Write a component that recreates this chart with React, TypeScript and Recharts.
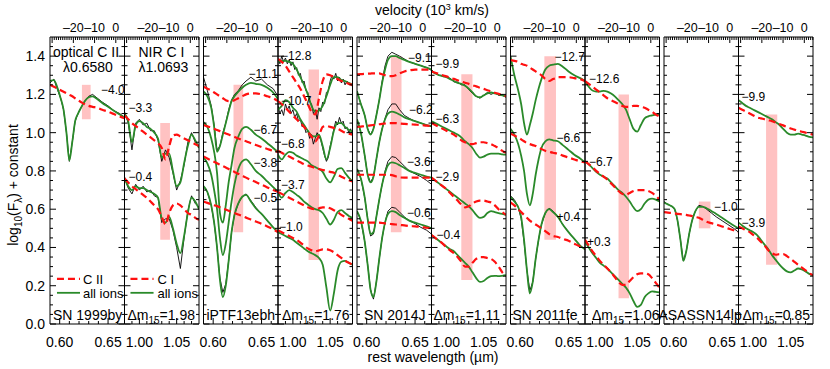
import React from "react";
import { LineChart, Line, XAxis, YAxis, ReferenceArea, ReferenceDot, ReferenceLine } from "recharts";

// ---------- grids & axes ----------
const OPT_GRID = [0.590, 0.594, 0.598, 0.601, 0.604, 0.607, 0.610, 0.613, 0.616, 0.619, 0.622, 0.626, 0.630, 0.634, 0.639, 0.644, 0.650, 0.656, 0.662, 0.667];
const NIR_GRID = [0.98, 0.985, 0.99, 0.995, 1.0, 1.005, 1.01, 1.015, 1.02, 1.025, 1.03, 1.035, 1.04, 1.045, 1.05, 1.055, 1.06, 1.065, 1.07, 1.075, 1.08];
const NIR_FINE = [0.98, 0.9825, 0.985, 0.9875, 0.99, 0.9925, 0.995, 0.9975, 1.0, 1.0025, 1.005, 1.0075, 1.01, 1.0125, 1.015, 1.0175, 1.02, 1.0225, 1.025, 1.0275, 1.03, 1.0325, 1.035, 1.0375, 1.04, 1.0425, 1.045, 1.0475, 1.05, 1.0525, 1.055, 1.0575, 1.06, 1.0625, 1.065, 1.0675, 1.07, 1.0725, 1.075, 1.0775, 1.08];

const OPT_DOMAIN: [number, number] = [0.59, 0.667];
const NIR_DOMAIN: [number, number] = [0.98, 1.08];
const VEL_DOMAIN: [number, number] = [-31.0, 4.1];
const Y_DOMAIN: [number, number] = [0, 1.5];

const OPT_TICKS = [0.6, 0.61, 0.62, 0.63, 0.64, 0.65, 0.66];
const OPT_MAJOR = [0.6, 0.65];
const NIR_TICKS = [0.99, 1.0, 1.01, 1.02, 1.03, 1.04, 1.05, 1.06, 1.07];
const NIR_MAJOR = [1.0, 1.05];
const VEL_TICKS = [-30, -29, -28, -27, -26, -25, -24, -23, -22, -21, -20, -19, -18, -17, -16, -15, -14, -13, -12, -11, -10, -9, -8, -7, -6, -5, -4, -3, -2, -1, 0, 1, 2, 3, 4];
const VEL_MAJOR = [-30, -20, -10, 0];
const VEL_LABELS = [-20, -10, 0];
const Y_TICKS = [0.0, 0.05, 0.1, 0.15, 0.2, 0.25, 0.3, 0.35, 0.4, 0.45, 0.5, 0.55, 0.6, 0.65, 0.7, 0.75, 0.8, 0.85, 0.9, 0.95, 1.0, 1.05, 1.1, 1.15, 1.2, 1.25, 1.3, 1.35, 1.4, 1.45];
const Y_MAJOR = [0.0, 0.2, 0.4, 0.6, 0.8, 1.0, 1.2, 1.4];

// ---------- SN 1999by ----------
const P1_G = [1.27, 1.275, 1.23, 1.18, 1.12, 1.0, 0.855, 0.95, 1.06, 1.10, 1.13, 1.165, 1.185, 1.19, 1.175, 1.155, 1.135, 1.115, 1.095, 1.08];
const P1_K = [1.26, 1.28, 1.22, 1.18, 1.12, 1.0, 0.85, 0.95, 1.06, 1.10, 1.13, 1.165, 1.19, 1.20, 1.18, 1.16, 1.14, 1.115, 1.10, 1.08];
const P1_R = [1.25, 1.24, 1.23, 1.222, 1.214, 1.206, 1.198, 1.19, 1.18, 1.17, 1.16, 1.148, 1.14, 1.135, 1.13, 1.12, 1.11, 1.097, 1.085, 1.075];

const P2A_G = [1.10, 1.06, 0.95, 1.04, 1.06, 1.05, 1.03, 1.02, 1.0, 0.97, 0.87, 0.89, 0.89, 0.80, 0.72, 0.74, 0.84, 0.93, 0.99, 0.96, 0.92];
const P2A_K = [1.11, 1.05, 0.91, 1.05, 1.07, 1.04, 1.05, 1.01, 1.01, 0.96, 0.85, 0.91, 0.87, 0.79, 0.70, 0.75, 0.83, 0.95, 1.0, 0.95, 0.93];
const P2A_R = [1.09, 1.07, 1.05, 1.035, 1.02, 1.005, 0.99, 0.975, 0.96, 0.945, 0.92, 0.86, 0.93, 0.985, 0.99, 0.98, 0.97, 0.96, 0.95, 0.94, 0.93];
const P2B_G = [0.76, 0.72, 0.70, 0.72, 0.71, 0.71, 0.70, 0.69, 0.68, 0.66, 0.55, 0.53, 0.56, 0.50, 0.42, 0.37, 0.46, 0.58, 0.66, 0.64, 0.60];
const P2B_K = [0.77, 0.71, 0.68, 0.73, 0.70, 0.72, 0.69, 0.70, 0.67, 0.66, 0.53, 0.55, 0.55, 0.49, 0.40, 0.29, 0.45, 0.59, 0.67, 0.63, 0.61];
const P2B_R = [0.76, 0.74, 0.72, 0.705, 0.69, 0.675, 0.66, 0.64, 0.62, 0.60, 0.56, 0.52, 0.58, 0.62, 0.63, 0.62, 0.60, 0.58, 0.57, 0.555, 0.545];

// ---------- iPTF13ebh ----------
const P3A_G = [1.215, 1.19, 1.13, 1.03, 0.90, 0.93, 0.99, 1.05, 1.11, 1.165, 1.19, 1.215, 1.235, 1.25, 1.26, 1.255, 1.25, 1.235, 1.21, 1.175];
const P3A_K = [1.29, 1.22, 1.14, 1.04, 0.91, 0.93, 1.0, 1.05, 1.12, 1.17, 1.20, 1.22, 1.25, 1.27, 1.29, 1.27, 1.28, 1.25, 1.23, 1.19];
const P3A_R = [1.24, 1.23, 1.22, 1.21, 1.20, 1.19, 1.18, 1.17, 1.165, 1.165, 1.17, 1.18, 1.19, 1.20, 1.205, 1.205, 1.2, 1.19, 1.18, 1.165];
const P3B_G = [1.055, 1.03, 0.97, 0.90, 0.79, 0.58, 0.53, 0.62, 0.74, 0.83, 0.92, 0.98, 1.02, 1.03, 1.015, 0.99, 0.97, 0.945, 0.92, 0.90];
const P3B_R = [1.04, 1.033, 1.026, 1.02, 1.014, 1.008, 1.002, 0.996, 0.99, 0.984, 0.978, 0.97, 0.962, 0.955, 0.945, 0.936, 0.925, 0.915, 0.905, 0.90];
const P3C_G = [0.87, 0.84, 0.78, 0.70, 0.60, 0.45, 0.36, 0.42, 0.53, 0.64, 0.73, 0.81, 0.85, 0.86, 0.835, 0.80, 0.775, 0.745, 0.715, 0.69];
const P3C_R = [0.875, 0.865, 0.855, 0.848, 0.84, 0.832, 0.825, 0.818, 0.81, 0.802, 0.795, 0.785, 0.775, 0.765, 0.753, 0.742, 0.728, 0.714, 0.70, 0.69];
const P3D_G = [0.72, 0.69, 0.62, 0.53, 0.40, 0.23, 0.14, 0.20, 0.33, 0.48, 0.57, 0.63, 0.665, 0.675, 0.64, 0.605, 0.575, 0.54, 0.505, 0.48];
const P3D_K = [0.72, 0.69, 0.62, 0.53, 0.40, 0.24, 0.165, 0.21, 0.33, 0.48, 0.57, 0.63, 0.665, 0.68, 0.645, 0.61, 0.575, 0.54, 0.505, 0.48];
const P3D_R = [0.64, 0.633, 0.626, 0.621, 0.616, 0.61, 0.604, 0.598, 0.592, 0.586, 0.58, 0.572, 0.564, 0.556, 0.546, 0.536, 0.524, 0.51, 0.495, 0.48];

const P4A_G = [1.37, 1.375, 1.375, 1.37, 1.36, 1.33, 1.29, 1.25, 1.20, 1.14, 1.11, 1.115, 1.14, 1.19, 1.25, 1.29, 1.29, 1.275, 1.27, 1.26, 1.25];
const P4A_K = [1.39, 1.36, 1.40, 1.37, 1.39, 1.36, 1.38, 1.35, 1.37, 1.33, 1.34, 1.30, 1.31, 1.26, 1.27, 1.22, 1.21, 1.16, 1.15, 1.10, 1.12, 1.07, 1.13, 1.11, 1.16, 1.15, 1.21, 1.22, 1.27, 1.30, 1.28, 1.31, 1.27, 1.29, 1.26, 1.28, 1.25, 1.27, 1.25, 1.26, 1.24];
const P4A_R = [1.385, 1.37, 1.35, 1.32, 1.29, 1.26, 1.23, 1.19, 1.15, 1.11, 1.095, 1.18, 1.27, 1.305, 1.30, 1.29, 1.28, 1.27, 1.265, 1.255, 1.25];
const P4B_G = [1.12, 1.14, 1.17, 1.16, 1.13, 1.11, 1.07, 1.04, 1.01, 0.985, 0.98, 0.99, 0.93, 0.86, 0.92, 1.01, 1.05, 1.05, 1.03, 1.015, 1.005];
const P4B_K = [1.14, 1.10, 1.12, 1.09, 1.15, 1.12, 1.14, 1.10, 1.12, 1.08, 1.10, 1.06, 1.07, 1.03, 1.04, 1.0, 1.01, 0.97, 0.99, 0.94, 0.97, 1.0, 0.98, 0.96, 0.92, 0.88, 0.85, 0.87, 0.93, 0.97, 1.02, 1.06, 1.04, 1.08, 1.05, 1.06, 1.02, 1.03, 1.0, 1.02, 0.99];
const P4B_R = [1.165, 1.15, 1.13, 1.11, 1.09, 1.07, 1.05, 1.03, 1.005, 0.98, 0.955, 0.985, 1.03, 1.035, 1.03, 1.025, 1.02, 1.01, 1.0, 0.995, 0.99];
const P4C_G = [0.885, 0.86, 0.885, 0.90, 0.895, 0.88, 0.87, 0.86, 0.85, 0.83, 0.82, 0.81, 0.795, 0.76, 0.74, 0.77, 0.81, 0.815, 0.79, 0.765, 0.745];
const P4C_R = [0.905, 0.895, 0.885, 0.875, 0.865, 0.855, 0.845, 0.835, 0.828, 0.822, 0.815, 0.81, 0.805, 0.80, 0.795, 0.79, 0.78, 0.77, 0.76, 0.752, 0.745];
const P4D_G = [0.69, 0.66, 0.685, 0.70, 0.69, 0.675, 0.66, 0.64, 0.625, 0.61, 0.60, 0.595, 0.58, 0.55, 0.52, 0.545, 0.585, 0.595, 0.58, 0.565, 0.555];
const P4D_R = [0.69, 0.68, 0.67, 0.66, 0.65, 0.64, 0.63, 0.62, 0.61, 0.603, 0.60, 0.605, 0.61, 0.61, 0.605, 0.595, 0.585, 0.57, 0.56, 0.55, 0.54];
const P4E_G = [0.48, 0.47, 0.46, 0.45, 0.44, 0.425, 0.41, 0.395, 0.38, 0.37, 0.36, 0.345, 0.31, 0.19, 0.07, 0.16, 0.28, 0.325, 0.33, 0.32, 0.31];
const P4E_R = [0.49, 0.48, 0.47, 0.46, 0.45, 0.44, 0.425, 0.41, 0.395, 0.385, 0.38, 0.385, 0.39, 0.39, 0.385, 0.375, 0.36, 0.345, 0.33, 0.32, 0.31];

// ---------- SN 2014J ----------
const P5A_G = [1.217, 1.15, 1.09, 1.02, 0.99, 1.02, 1.09, 1.17, 1.26, 1.33, 1.38, 1.40, 1.40, 1.39, 1.38, 1.37, 1.36, 1.35, 1.34, 1.33];
const P5A_K = [1.217, 1.15, 1.09, 1.02, 0.99, 1.02, 1.09, 1.17, 1.27, 1.35, 1.40, 1.42, 1.41, 1.40, 1.385, 1.37, 1.36, 1.35, 1.34, 1.325];
const P5A_R = [1.305, 1.306, 1.307, 1.308, 1.309, 1.31, 1.31, 1.31, 1.305, 1.30, 1.295, 1.295, 1.30, 1.31, 1.32, 1.325, 1.33, 1.33, 1.33, 1.33];
const P5B_G = [1.07, 1.0, 0.88, 0.78, 0.74, 0.77, 0.86, 0.95, 1.02, 1.07, 1.10, 1.11, 1.105, 1.095, 1.08, 1.07, 1.06, 1.05, 1.04, 1.035];
const P5B_K = [1.07, 1.0, 0.88, 0.78, 0.74, 0.77, 0.86, 0.95, 1.02, 1.075, 1.12, 1.15, 1.15, 1.12, 1.09, 1.075, 1.06, 1.05, 1.04, 1.03];
const P5B_R = [1.03, 1.032, 1.034, 1.036, 1.038, 1.04, 1.042, 1.044, 1.046, 1.048, 1.05, 1.05, 1.05, 1.048, 1.046, 1.044, 1.042, 1.04, 1.037, 1.035];
const P5C_G = [0.81, 0.76, 0.66, 0.55, 0.47, 0.48, 0.56, 0.65, 0.73, 0.79, 0.83, 0.845, 0.84, 0.83, 0.815, 0.80, 0.79, 0.78, 0.77, 0.765];
const P5C_K = [0.81, 0.76, 0.66, 0.55, 0.46, 0.47, 0.56, 0.65, 0.73, 0.80, 0.85, 0.875, 0.87, 0.85, 0.825, 0.80, 0.785, 0.77, 0.75, 0.73];
const P5C_R = [0.78, 0.78, 0.78, 0.78, 0.78, 0.78, 0.78, 0.78, 0.78, 0.78, 0.78, 0.778, 0.772, 0.766, 0.765, 0.765, 0.765, 0.765, 0.765, 0.765];
const P5D_G = [0.59, 0.54, 0.43, 0.31, 0.18, 0.14, 0.22, 0.34, 0.45, 0.53, 0.575, 0.59, 0.585, 0.57, 0.555, 0.54, 0.53, 0.52, 0.51, 0.50];
const P5D_K = [0.59, 0.54, 0.43, 0.31, 0.18, 0.13, 0.22, 0.34, 0.45, 0.53, 0.59, 0.61, 0.605, 0.585, 0.56, 0.54, 0.525, 0.505, 0.49, 0.47];
const P5D_R = [0.53, 0.53, 0.53, 0.53, 0.53, 0.53, 0.53, 0.53, 0.528, 0.526, 0.524, 0.522, 0.52, 0.518, 0.515, 0.512, 0.51, 0.507, 0.503, 0.50];

const P6A_G = [1.32, 1.31, 1.30, 1.295, 1.29, 1.28, 1.27, 1.26, 1.255, 1.245, 1.23, 1.21, 1.19, 1.185, 1.195, 1.205, 1.21, 1.205, 1.20, 1.195, 1.19];
const P6A_K = [1.33, 1.31, 1.30, 1.30, 1.29, 1.285, 1.265, 1.265, 1.25, 1.25, 1.225, 1.205, 1.19, 1.18, 1.195, 1.21, 1.20, 1.21, 1.195, 1.195, 1.185];
const P6A_R = [1.32, 1.313, 1.307, 1.30, 1.294, 1.287, 1.281, 1.274, 1.268, 1.261, 1.255, 1.248, 1.242, 1.235, 1.229, 1.222, 1.216, 1.209, 1.203, 1.196, 1.19];
const P6B_G = [1.06, 1.05, 1.04, 1.03, 1.02, 1.01, 1.0, 0.99, 0.975, 0.955, 0.94, 0.92, 0.89, 0.87, 0.875, 0.885, 0.89, 0.89, 0.89, 0.887, 0.885];
const P6B_R = [1.05, 1.04, 1.03, 1.02, 1.01, 1.0, 0.99, 0.975, 0.96, 0.95, 0.94, 0.94, 0.945, 0.95, 0.95, 0.945, 0.94, 0.93, 0.92, 0.905, 0.895];
const P6C_G = [0.765, 0.75, 0.735, 0.72, 0.705, 0.69, 0.675, 0.66, 0.645, 0.63, 0.615, 0.595, 0.57, 0.555, 0.56, 0.58, 0.59, 0.585, 0.58, 0.575, 0.57];
const P6C_R = [0.765, 0.75, 0.735, 0.72, 0.705, 0.685, 0.665, 0.645, 0.625, 0.61, 0.615, 0.63, 0.64, 0.645, 0.645, 0.64, 0.635, 0.62, 0.60, 0.585, 0.57];
const P6D_G = [0.465, 0.45, 0.435, 0.42, 0.405, 0.39, 0.38, 0.36, 0.34, 0.32, 0.30, 0.27, 0.24, 0.22, 0.225, 0.24, 0.25, 0.252, 0.25, 0.252, 0.255];
const P6D_R = [0.465, 0.45, 0.435, 0.42, 0.40, 0.385, 0.37, 0.35, 0.325, 0.30, 0.30, 0.32, 0.34, 0.35, 0.35, 0.345, 0.34, 0.325, 0.30, 0.27, 0.25];

// ---------- SN 2011fe ----------
const P7A_G = [1.40, 1.30, 1.22, 1.15, 1.05, 0.99, 1.04, 1.10, 1.17, 1.23, 1.28, 1.33, 1.35, 1.355, 1.36, 1.345, 1.32, 1.30, 1.285, 1.27];
const P7A_R = [1.38, 1.375, 1.37, 1.36, 1.355, 1.35, 1.34, 1.33, 1.32, 1.31, 1.30, 1.28, 1.27, 1.28, 1.29, 1.29, 1.29, 1.285, 1.28, 1.27];
const P7B_G = [1.02, 0.99, 0.94, 0.88, 0.80, 0.68, 0.62, 0.68, 0.78, 0.86, 0.92, 0.955, 0.965, 0.96, 0.955, 0.935, 0.91, 0.885, 0.865, 0.845];
const P7B_R = [0.995, 0.985, 0.975, 0.965, 0.955, 0.945, 0.94, 0.935, 0.93, 0.92, 0.915, 0.905, 0.90, 0.895, 0.89, 0.88, 0.87, 0.86, 0.85, 0.845];
const P7C_G = [0.665, 0.64, 0.61, 0.56, 0.44, 0.28, 0.16, 0.22, 0.34, 0.44, 0.52, 0.58, 0.60, 0.585, 0.56, 0.52, 0.48, 0.445, 0.41, 0.39];
const P7C_K = [0.67, 0.65, 0.61, 0.55, 0.43, 0.28, 0.175, 0.22, 0.34, 0.44, 0.52, 0.58, 0.605, 0.59, 0.56, 0.52, 0.48, 0.445, 0.41, 0.39];
const P7C_R = [0.635, 0.62, 0.60, 0.585, 0.57, 0.555, 0.54, 0.53, 0.52, 0.51, 0.50, 0.485, 0.47, 0.46, 0.455, 0.445, 0.435, 0.42, 0.405, 0.395];

const P8A_G = [1.27, 1.24, 1.22, 1.215, 1.215, 1.218, 1.215, 1.205, 1.19, 1.17, 1.15, 1.12, 1.07, 1.02, 1.005, 1.04, 1.075, 1.085, 1.09, 1.095, 1.095];
const P8A_R = [1.27, 1.255, 1.24, 1.225, 1.21, 1.195, 1.18, 1.17, 1.16, 1.15, 1.14, 1.135, 1.135, 1.14, 1.14, 1.135, 1.13, 1.12, 1.11, 1.095, 1.085];
const P8B_G = [0.85, 0.835, 0.815, 0.795, 0.78, 0.77, 0.76, 0.74, 0.72, 0.70, 0.685, 0.665, 0.64, 0.61, 0.59, 0.60, 0.63, 0.65, 0.655, 0.65, 0.64];
const P8B_R = [0.85, 0.835, 0.82, 0.80, 0.785, 0.77, 0.755, 0.735, 0.715, 0.695, 0.68, 0.675, 0.685, 0.695, 0.70, 0.70, 0.70, 0.695, 0.685, 0.67, 0.65];
const P8C_G = [0.43, 0.40, 0.37, 0.345, 0.32, 0.305, 0.29, 0.27, 0.25, 0.23, 0.21, 0.19, 0.16, 0.12, 0.09, 0.10, 0.14, 0.16, 0.17, 0.168, 0.165];
const P8C_R = [0.44, 0.41, 0.38, 0.355, 0.33, 0.31, 0.29, 0.27, 0.245, 0.22, 0.205, 0.205, 0.225, 0.245, 0.26, 0.265, 0.265, 0.26, 0.24, 0.215, 0.19];

// ---------- ASASSN14lp ----------
const P9_G = [0.635, 0.625, 0.615, 0.60, 0.54, 0.44, 0.33, 0.38, 0.47, 0.54, 0.585, 0.612, 0.612, 0.605, 0.59, 0.575, 0.555, 0.535, 0.515, 0.50];
const P9_K = [0.64, 0.625, 0.615, 0.60, 0.54, 0.44, 0.33, 0.38, 0.47, 0.54, 0.585, 0.62, 0.615, 0.60, 0.58, 0.56, 0.54, 0.52, 0.50, 0.48];
const P9_R = [0.585, 0.582, 0.58, 0.578, 0.576, 0.574, 0.572, 0.57, 0.567, 0.564, 0.56, 0.555, 0.545, 0.535, 0.527, 0.52, 0.51, 0.50, 0.49, 0.48];

const P10A_G = [1.17, 1.155, 1.14, 1.13, 1.12, 1.11, 1.10, 1.09, 1.08, 1.07, 1.055, 1.04, 1.02, 1.0, 0.99, 0.99, 0.995, 0.99, 0.985, 0.978, 0.975];
const P10A_R = [1.13, 1.12, 1.11, 1.10, 1.09, 1.08, 1.075, 1.07, 1.065, 1.06, 1.052, 1.045, 1.038, 1.03, 1.022, 1.016, 1.01, 1.005, 1.0, 0.995, 0.99];
const P10B_G = [0.53, 0.515, 0.50, 0.49, 0.48, 0.465, 0.44, 0.415, 0.39, 0.36, 0.335, 0.31, 0.29, 0.275, 0.27, 0.28, 0.29, 0.285, 0.275, 0.262, 0.255];
const P10B_R = [0.51, 0.50, 0.49, 0.48, 0.465, 0.45, 0.43, 0.41, 0.385, 0.37, 0.362, 0.365, 0.365, 0.355, 0.34, 0.325, 0.31, 0.295, 0.28, 0.265, 0.255];

// ---------- carbon-line bands [x1, x2, y1, y2] ----------
const BANDS = [
  [0.623, 0.632, 1.07, 1.25],
  [1.028, 1.041, 0.44, 1.05],
  [0.621, 0.631, 0.48, 1.25],
  [1.021, 1.035, 0.335, 1.33],
  [0.625, 0.636, 0.48, 1.40],
  [1.020, 1.035, 0.23, 1.305],
  [0.625, 0.637, 0.44, 1.40],
  [1.025, 1.039, 0.135, 1.20],
  [0.626, 0.638, 0.50, 0.64],
  [1.017, 1.032, 0.31, 1.095],
];

// ---------- phase labels ----------
const PHASES: { t: string; x: number; y: number }[][] = [
  [{ t: "−4.0", x: 0.6427, y: 1.225 }],
  [{ t: "−3.3", x: 0.9854, y: 1.13 }, { t: "−0.4", x: 0.9854, y: 0.77 }],
  [{ t: "−11.1", x: 0.6365, y: 1.306 }, { t: "−6.7", x: 0.6417, y: 1.017 }, { t: "−3.8", x: 0.6417, y: 0.844 }, { t: "−0.5", x: 0.6417, y: 0.66 }],
  [{ t: "−12.8", x: 0.984, y: 1.40 }, { t: "−10.7", x: 0.984, y: 1.164 }, { t: "−6.8", x: 0.984, y: 0.94 }, { t: "−3.7", x: 0.984, y: 0.73 }, { t: "−1.0", x: 0.9813, y: 0.51 }],
  [{ t: "−9.1", x: 0.6427, y: 1.39 }, { t: "−6.2", x: 0.6437, y: 1.117 }, { t: "−3.6", x: 0.6417, y: 0.85 }, { t: "−0.6", x: 0.6417, y: 0.58 }],
  [{ t: "−9.9", x: 0.9854, y: 1.36 }, { t: "−6.3", x: 0.9854, y: 1.07 }, { t: "−2.9", x: 0.9854, y: 0.77 }, { t: "−0.4", x: 0.9868, y: 0.465 }],
  [{ t: "−12.7", x: 0.6355, y: 1.395 }, { t: "−6.6", x: 0.6375, y: 0.975 }, { t: "+0.4", x: 0.6375, y: 0.56 }],
  [{ t: "−12.6", x: 0.9854, y: 1.28 }, { t: "−6.7", x: 0.9854, y: 0.85 }, { t: "+0.3", x: 0.9827, y: 0.43 }],
  [{ t: "−1.0", x: 0.6417, y: 0.61 }],
  [{ t: "−9.9", x: 0.984, y: 1.185 }, { t: "−3.9", x: 0.984, y: 0.53 }],
];

const NAMES = ["SN 1999by", "1.98", "iPTF13ebh", "1.76", "SN 2014J", "1.11", "SN 2011fe", "1.06", "ASASSN14lp", "0.85"];
const NAME_X = [0.5931, 0.984, 0.5931, 0.9854, 0.5972, 0.9827, 0.592, 0.9894, 0.6273, 0.9854];

// ---------- layout ----------
const W = 830;
const H = 369;
const PLOT_TOP = 37;
const PLOT_BOTTOM = 324;
const PW = 74.5;
const AX = 1; // axis thickness reserved in margins
const PAIR_LEFT = [50, 203.5, 357, 510.5, 664];
const FONT = "'Liberation Sans', Arial, Helvetica, sans-serif";
const GREEN = "#2a8a2a";
const RED = "#ff1010";
const PINK = "#ffc2c2";

type Spectrum = { g: number[]; r: number[]; k?: number[]; kx?: number[] };
type Spec = { kind: "opt" | "nir"; spectra: Spectrum[] };

const SPECS: Spec[] = [
  { kind: "opt", spectra: [{ g: P1_G, k: P1_K, r: P1_R }] },
  { kind: "nir", spectra: [{ g: P2A_G, k: P2A_K, r: P2A_R }, { g: P2B_G, k: P2B_K, r: P2B_R }] },
  { kind: "opt", spectra: [{ g: P3A_G, k: P3A_K, r: P3A_R }, { g: P3B_G, r: P3B_R }, { g: P3C_G, r: P3C_R }, { g: P3D_G, k: P3D_K, r: P3D_R }] },
  { kind: "nir", spectra: [{ g: P4A_G, k: P4A_K, kx: NIR_FINE, r: P4A_R }, { g: P4B_G, k: P4B_K, kx: NIR_FINE, r: P4B_R }, { g: P4C_G, r: P4C_R }, { g: P4D_G, r: P4D_R }, { g: P4E_G, r: P4E_R }] },
  { kind: "opt", spectra: [{ g: P5A_G, k: P5A_K, r: P5A_R }, { g: P5B_G, k: P5B_K, r: P5B_R }, { g: P5C_G, k: P5C_K, r: P5C_R }, { g: P5D_G, k: P5D_K, r: P5D_R }] },
  { kind: "nir", spectra: [{ g: P6A_G, k: P6A_K, r: P6A_R }, { g: P6B_G, r: P6B_R }, { g: P6C_G, r: P6C_R }, { g: P6D_G, r: P6D_R }] },
  { kind: "opt", spectra: [{ g: P7A_G, r: P7A_R }, { g: P7B_G, r: P7B_R }, { g: P7C_G, k: P7C_K, r: P7C_R }] },
  { kind: "nir", spectra: [{ g: P8A_G, r: P8A_R }, { g: P8B_G, r: P8B_R }, { g: P8C_G, r: P8C_R }] },
  { kind: "opt", spectra: [{ g: P9_G, k: P9_K, r: P9_R }] },
  { kind: "nir", spectra: [{ g: P10A_G, r: P10A_R }, { g: P10B_G, r: P10B_R }] },
];

const mk = (xs: number[], ys: number[]) => xs.map((x, i) => ({ x, y: ys[i] }));
const isIn = (arr: number[], v: number) => arr.some((m) => Math.abs(m - v) < 1e-6);
const fmtVel = (v: number) => (v === 0 ? "0" : "–" + Math.abs(v));

function makeTick(side: "bottom" | "top" | "left" | "right", major: number[], labels: number[] | null, fmt: (v: number) => string) {
  return (props: any) => {
    const { x, y, payload } = props;
    const v = payload.value as number;
    const maj = isIn(major, v);
    const len = maj ? 6 : 3;
    const showLabel = labels ? isIn(labels, v) : false;
    let line: React.ReactNode = null;
    let text: React.ReactNode = null;
    if (side === "bottom") {
      line = <line x1={x} y1={y} x2={x} y2={y - len} stroke="#000" strokeWidth={1} />;
      if (showLabel) text = <text x={x} y={y + 23} textAnchor="middle" fontSize={14} fontFamily={FONT} fill="#000">{fmt(v)}</text>;
    } else if (side === "top") {
      line = <line x1={x} y1={y} x2={x} y2={y + len} stroke="#000" strokeWidth={1} />;
      if (showLabel) text = <text x={x} y={y - 5} textAnchor="middle" fontSize={12.5} fontFamily={FONT} fill="#000">{fmt(v)}</text>;
    } else if (side === "left") {
      line = <line x1={x} y1={y} x2={x + len} y2={y} stroke="#000" strokeWidth={1} />;
      if (showLabel) text = <text x={x - 5} y={y + 5} textAnchor="end" fontSize={14} fontFamily={FONT} fill="#000">{fmt(v)}</text>;
    } else {
      line = <line x1={x} y1={y} x2={x - len} y2={y} stroke="#000" strokeWidth={1} />;
    }
    return (
      <g>
        {line}
        {text}
      </g>
    );
  };
}

const textDot = (key: string, x: number, y: number, content: (cx: number, cy: number) => React.ReactElement) => (
  <ReferenceDot
    key={key}
    xAxisId="w"
    yAxisId="l"
    x={x}
    y={y}
    r={0}
    ifOverflow="visible"
    shape={(p: any) => content(p.cx, p.cy)}
  />
);

function Panel({ idx }: { idx: number }) {
  const spec = SPECS[idx];
  const isOpt = spec.kind === "opt";
  const left = PAIR_LEFT[Math.floor(idx / 2)] + (idx % 2) * PW;
  const grid = isOpt ? OPT_GRID : NIR_GRID;
  const band = BANDS[idx];
  const nm = NAMES[idx];
  const nameY = 0.021;
  return (
    <div style={{ position: "absolute", left: 0, top: 0 }}>
      <LineChart width={W} height={H} margin={{ top: PLOT_TOP - AX, bottom: H - PLOT_BOTTOM - AX, left: left - AX, right: W - left - PW - AX }}>
        <XAxis
          xAxisId="w"
          type="number"
          dataKey="x"
          domain={isOpt ? OPT_DOMAIN : NIR_DOMAIN}
          allowDataOverflow
          ticks={isOpt ? OPT_TICKS : NIR_TICKS}
          interval={0}
          height={AX}
          tickSize={0}
          tickMargin={0}
          tickLine={false}
          axisLine={{ stroke: "#000", strokeWidth: 1 }}
          tick={makeTick("bottom", isOpt ? OPT_MAJOR : NIR_MAJOR, isOpt ? OPT_MAJOR : NIR_MAJOR, (v) => v.toFixed(2))}
        />
        <XAxis
          xAxisId="v"
          orientation="top"
          type="number"
          dataKey="v"
          domain={VEL_DOMAIN}
          allowDataOverflow
          ticks={VEL_TICKS}
          interval={0}
          height={AX}
          tickSize={0}
          tickMargin={0}
          tickLine={false}
          axisLine={{ stroke: "#000", strokeWidth: 1 }}
          tick={makeTick("top", VEL_MAJOR, VEL_LABELS, fmtVel)}
        />
        <YAxis
          yAxisId="l"
          type="number"
          domain={Y_DOMAIN}
          allowDataOverflow
          ticks={Y_TICKS}
          interval={0}
          width={AX}
          tickSize={0}
          tickMargin={0}
          tickLine={false}
          axisLine={{ stroke: "#000", strokeWidth: 1 }}
          tick={makeTick("left", Y_MAJOR, idx === 0 ? Y_MAJOR : null, (v) => v.toFixed(1))}
        />
        <YAxis
          yAxisId="r"
          orientation="right"
          type="number"
          domain={Y_DOMAIN}
          allowDataOverflow
          ticks={Y_TICKS}
          interval={0}
          width={AX}
          tickSize={0}
          tickMargin={0}
          tickLine={false}
          axisLine={{ stroke: "#000", strokeWidth: 1 }}
          tick={makeTick("right", Y_MAJOR, null, (v) => v.toFixed(1))}
        />
        <ReferenceArea xAxisId="w" yAxisId="l" x1={band[0]} x2={band[1]} y1={band[2]} y2={band[3]} fill={PINK} fillOpacity={1} stroke="none" ifOverflow="visible" />
        {spec.spectra.map((s, i) =>
          s.k ? (
            <Line key={"k" + i} xAxisId="w" yAxisId="l" data={mk(s.kx || grid, s.k)} dataKey="y" type="linear" stroke="#000" strokeWidth={0.9} dot={false} activeDot={false} isAnimationActive={false} />
          ) : null
        )}
        {spec.spectra.map((s, i) => (
          <Line key={"g" + i} xAxisId="w" yAxisId="l" data={mk(grid, s.g)} dataKey="y" type="monotone" stroke={GREEN} strokeWidth={1.8} dot={false} activeDot={false} isAnimationActive={false} />
        ))}
        {spec.spectra.map((s, i) => (
          <Line key={"r" + i} xAxisId="w" yAxisId="l" data={mk(grid, s.r)} dataKey="y" type="monotone" stroke={RED} strokeWidth={2.2} strokeDasharray="7 4" dot={false} activeDot={false} isAnimationActive={false} />
        ))}
        {PHASES[idx].map((ph, i) =>
          textDot("ph" + i, ph.x, ph.y, (cx, cy) => (
            <text x={cx} y={cy} dy="0.35em" fontSize={12} fontFamily={FONT} fill="#000">{ph.t}</text>
          ))
        )}
        {isOpt
          ? textDot("name", NAME_X[idx], nameY, (cx, cy) => (
              <text x={cx} y={cy} fontSize={14} fontFamily={FONT} fill="#000" textAnchor={idx === 8 ? "middle" : "start"}>{nm}</text>
            ))
          : textDot("name", NAME_X[idx], nameY, (cx, cy) => (
              <text x={cx} y={cy} fontSize={14} fontFamily={FONT} fill="#000">
                Δm<tspan fontSize={10} dy={4}>15</tspan>
                <tspan dy={-4}>={nm}</tspan>
              </text>
            ))}
        {idx === 0 && textDot("h1", 0.5931, 1.395, (cx, cy) => <text x={cx} y={cy} fontSize={14} fontFamily={FONT} fill="#000">optical C II</text>)}
        {idx === 0 && textDot("h2", 0.6034, 1.316, (cx, cy) => <text x={cx} y={cy} fontSize={14} fontFamily={FONT} fill="#000">λ0.6580</text>)}
        {idx === 1 && textDot("h1", 0.9988, 1.395, (cx, cy) => <text x={cx} y={cy} fontSize={14} fontFamily={FONT} fill="#000">NIR C I</text>)}
        {idx === 1 && textDot("h2", 0.9988, 1.316, (cx, cy) => <text x={cx} y={cy} fontSize={14} fontFamily={FONT} fill="#000">λ1.0693</text>)}
        {idx < 2 && (
          <ReferenceLine
            xAxisId="w"
            yAxisId="l"
            ifOverflow="visible"
            segment={idx === 0 ? [{ x: 0.5972, y: 0.236 }, { x: 0.621, y: 0.236 }] : [{ x: 0.988, y: 0.236 }, { x: 1.019, y: 0.236 }]}
            stroke={RED}
            strokeWidth={2.2}
            strokeDasharray="7 4"
          />
        )}
        {idx < 2 && (
          <ReferenceLine
            xAxisId="w"
            yAxisId="l"
            ifOverflow="visible"
            segment={idx === 0 ? [{ x: 0.5972, y: 0.163 }, { x: 0.621, y: 0.163 }] : [{ x: 0.988, y: 0.163 }, { x: 1.019, y: 0.163 }]}
            stroke={GREEN}
            strokeWidth={1.8}
          />
        )}
        {idx < 2 && textDot("lg1", idx === 0 ? 0.6241 : 1.0243, 0.21, (cx, cy) => <text x={cx} y={cy} fontSize={13} fontFamily={FONT} fill="#000">{idx === 0 ? "C II" : "C I"}</text>)}
        {idx < 2 && textDot("lg2", idx === 0 ? 0.6241 : 1.0243, 0.136, (cx, cy) => <text x={cx} y={cy} fontSize={13} fontFamily={FONT} fill="#000">all ions</text>)}
      </LineChart>
    </div>
  );
}

export default function App() {
  return (
    <div style={{ position: "absolute", left: 0, top: 0, width: W, height: H, background: "#fff", fontFamily: FONT, overflow: "hidden" }}>
      {SPECS.map((_, i) => (
        <Panel key={i} idx={i} />
      ))}
      <svg width={W} height={H} style={{ position: "absolute", left: 0, top: 0, pointerEvents: "none" }}>
        <text x={432} y={15} textAnchor="middle" fontSize={14} fontFamily={FONT} fill="#000">
          velocity (10<tspan fontSize={9} dy={-5}>3</tspan>
          <tspan dy={5}> km/s)</tspan>
        </text>
        <text x={433} y={362} textAnchor="middle" fontSize={14} fontFamily={FONT} fill="#000">rest wavelength (µm)</text>
        <text transform="translate(18,185) rotate(-90)" textAnchor="middle" fontSize={14} fontFamily={FONT} fill="#000">
          log<tspan fontSize={10} dy={4}>10</tspan>
          <tspan dy={-4}>(F</tspan>
          <tspan fontSize={10} dy={4}>λ</tspan>
          <tspan dy={-4}>) + constant</tspan>
        </text>
      </svg>
    </div>
  );
}
